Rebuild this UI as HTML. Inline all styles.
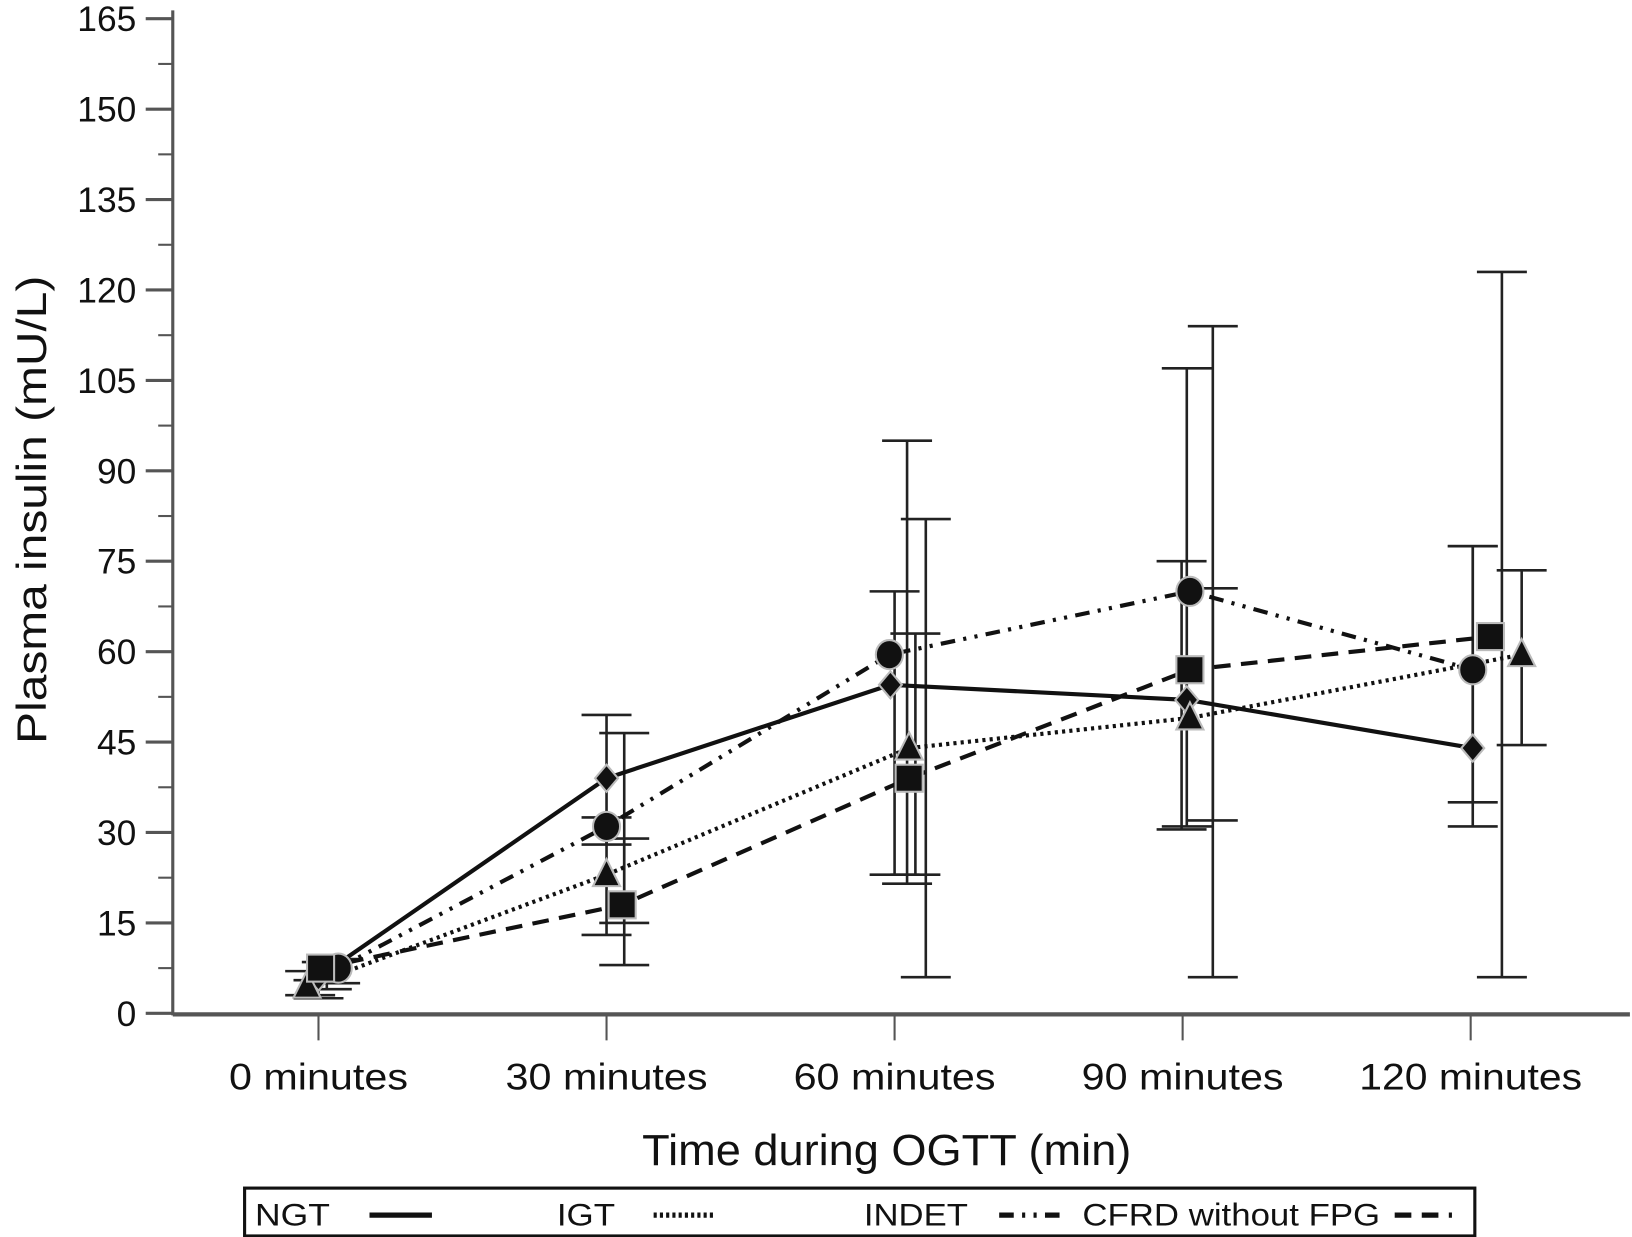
<!DOCTYPE html>
<html><head><meta charset="utf-8"><style>
html,body{margin:0;padding:0;background:#fff}
svg{display:block}
text{font-family:"Liberation Sans",sans-serif;fill:#111}
</style></head><body>
<svg id="chart" width="1632" height="1237" viewBox="0 0 1568 1189" preserveAspectRatio="none" xmlns="http://www.w3.org/2000/svg">
<g id="axes"></g>
<g id="bars"></g>
<g id="lines"></g>
<g id="marks"></g>
<text transform="translate(44,490) rotate(-90)" text-anchor="middle" font-size="40" textLength="450" lengthAdjust="spacingAndGlyphs">Plasma insulin (mU/L)</text>
<text x="852" y="1120" text-anchor="middle" font-size="42" textLength="470" lengthAdjust="spacingAndGlyphs">Time during OGTT (min)</text>
<g>
<rect x="235" y="1142" width="1182" height="46" fill="none" stroke="#111" stroke-width="3"/>
<text x="245" y="1178" font-size="30" textLength="72" lengthAdjust="spacingAndGlyphs">NGT</text>
<line x1="355" y1="1168" x2="415" y2="1168" stroke="#111" stroke-width="5"/>
<text x="535" y="1178" font-size="30" textLength="56" lengthAdjust="spacingAndGlyphs">IGT</text>
<line x1="628" y1="1168" x2="685" y2="1168" stroke="#111" stroke-width="5" stroke-dasharray="3,3"/>
<text x="830" y="1178" font-size="30" textLength="100" lengthAdjust="spacingAndGlyphs">INDET</text>
<line x1="960" y1="1168" x2="1025" y2="1168" stroke="#111" stroke-width="5" stroke-dasharray="14,8,3,8,3,8"/>
<text x="1040" y="1178" font-size="30" textLength="286" lengthAdjust="spacingAndGlyphs">CFRD without FPG</text>
<line x1="1340" y1="1168" x2="1395" y2="1168" stroke="#111" stroke-width="5" stroke-dasharray="16,10"/>
</g>
</svg>
<script>
const categories = ["0 minutes","30 minutes","60 minutes","90 minutes","120 minutes"];
const yTicks = [0,15,30,45,60,75,90,105,120,135,150,165];
const seriesNames = ["NGT","IGT","INDET","CFRD"];
const ngt = [6, 39, 54.5, 52, 44];
const igt = [4.5, 23, 44, 49, 59.5];
const indet = [7.5, 31, 59.5, 70, 57];
const cfrd = [7.5, 18, 39, 57, 62.5];
const ngtHi = [7, 49.5, 70, 75, 77.5];
const ngtLo = [3, 28, 23, 30.5, 31];
const igtHi = [5.5, 46.5, 82, 70.5, 73.5];
const igtLo = [2.5, 8, 6, 6, 44.5];
const indetHi = [9, 32.5, 95, 114, 77.5];
const indetLo = [5, 13, 21.5, 32, 35];
const cfrdHi = [8.5, 29, 63, 107, 123];
const cfrdLo = [4, 15, 23, 31, 6];

const NS="http://www.w3.org/2000/svg";
const X0=306, DX=276.75, Y0=974, YS=956/165;
const xs=i=>X0+i*DX, ys=v=>Y0-v*YS;
function mk(tag,at,parent){const e=document.createElementNS(NS,tag);for(const k in at)e.setAttribute(k,at[k]);parent.appendChild(e);return e;}
const axes=document.getElementById('axes'),bars=document.getElementById('bars'),lines=document.getElementById('lines'),marks=document.getElementById('marks');

let e=mk('line',{x1:166,y1:10,x2:166,y2:976,stroke:'#555','stroke-width':3},axes);


e=mk('line',{x1:166,y1:975,x2:1566,y2:975,stroke:'#555','stroke-width':4},axes);


yTicks.forEach((v,i)=>{
  mk('line',{x1:140,y1:ys(v),x2:166,y2:ys(v),stroke:'#555','stroke-width':3},axes);
  if(i<yTicks.length-1) mk('line',{x1:152,y1:ys(v+7.5),x2:166,y2:ys(v+7.5),stroke:'#555','stroke-width':2},axes);
  const t=mk('text',{x:131,y:ys(v)+12,'text-anchor':'end','font-size':34},axes);
  t.textContent=v;
  
  
});
categories.forEach((c,i)=>{
  mk('line',{x1:xs(i),y1:976,x2:xs(i),y2:1000,stroke:'#555','stroke-width':2},axes);
  const t=mk('text',{x:xs(i),y:1047,'text-anchor':'middle','font-size':36,textLength:c.length>10?214:(c.length>9?194:172),lengthAdjust:'spacingAndGlyphs'},axes);
  t.textContent=c;
  
  
});

const vals=[ngt,igt,indet,cfrd], his=[ngtHi,igtHi,indetHi,cfrdHi], los=[ngtLo,igtLo,indetLo,cfrdLo];
const dodge=[[0,0,-4,4,2],[-11,0,14,7,49],[19,0,-5,7,2],[2,15,14,7,19]];
const barDodge=[[-8,0,0,-1,2],[0,17,30,29,49],[16,0,12,29,2],[8,17,20,4,30]];
const dashes=['none','3,4','14,8,3,8,3,8','16,10'];
vals.forEach((arr,s)=>{
  arr.forEach((v,i)=>{
    const bx=xs(i)+barDodge[s][i];
    const b=mk('path',{d:`M${bx},${ys(his[s][i])}V${ys(los[s][i])}M${bx-24},${ys(his[s][i])}H${bx+24}M${bx-24},${ys(los[s][i])}H${bx+24}`,stroke:'#222','stroke-width':2.5,fill:'none'},bars);
    
    
  });
  const d=arr.map((v,i)=>(i?'L':'M')+(xs(i)+dodge[s][i])+','+ys(v)).join('');
  const l=mk('path',{d,fill:'none',stroke:'#111','stroke-width':4,'stroke-dasharray':dashes[s]},lines);
  
  
});
vals.forEach((arr,s)=>{
  arr.forEach((v,i)=>{
    const x=xs(i)+dodge[s][i],y=ys(v);let m;
    if(s===0) m=mk('path',{d:`M${x},${y-13}L${x+11},${y}L${x},${y+13}L${x-11},${y}Z`},marks);
    else if(s===1) m=mk('path',{d:`M${x},${y-15}L${x+13},${y+11}L${x-13},${y+11}Z`},marks);
    else if(s===2) m=mk('ellipse',{cx:x,cy:y,rx:13,ry:14},marks);
    else m=mk('rect',{x:x-13,y:y-13,width:26,height:26},marks);
    m.setAttribute('fill','#111');m.setAttribute('stroke','#bbb');m.setAttribute('stroke-width','2');
    
    
  });
});
</script>
</body></html>
